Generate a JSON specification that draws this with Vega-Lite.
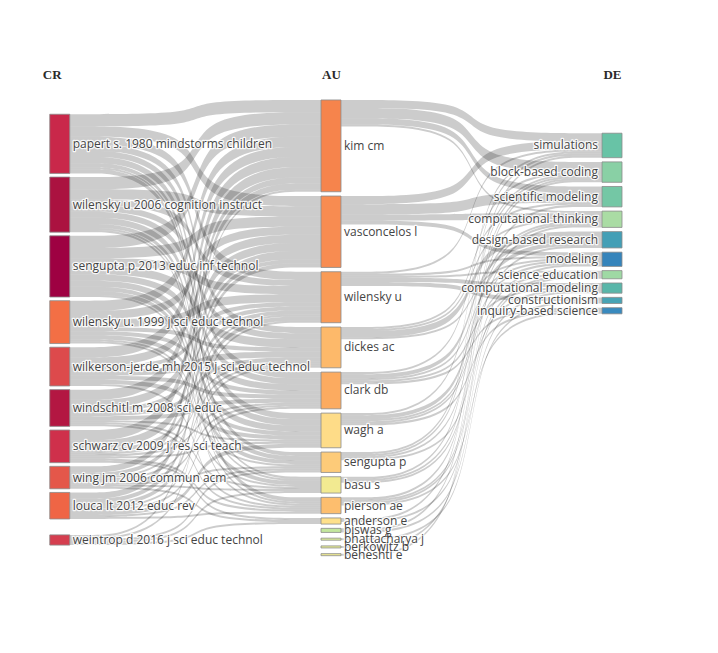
{
  "$schema": "https://vega.github.io/schema/vega-lite/v6.json",
  "width": 718,
  "height": 653,
  "autosize": {"type": "none"},
  "padding": 0,
  "background": "white",
  "config": {"view": {"stroke": null}},
  "datasets": {
    "nodes": [
      {"name": "papert s. 1980 mindstorms children", "col": "CR", "ord": 0, "value": 29},
      {"name": "wilensky u 2006 cognition instruct", "col": "CR", "ord": 1, "value": 27},
      {"name": "sengupta p 2013 educ inf technol", "col": "CR", "ord": 2, "value": 30},
      {"name": "wilensky u. 1999 j sci educ technol", "col": "CR", "ord": 3, "value": 21},
      {"name": "wilkerson-jerde mh 2015 j sci educ technol", "col": "CR", "ord": 4, "value": 19},
      {"name": "windschitl m 2008 sci educ", "col": "CR", "ord": 5, "value": 18},
      {"name": "schwarz cv 2009 j res sci teach", "col": "CR", "ord": 6, "value": 16},
      {"name": "wing jm 2006 commun acm", "col": "CR", "ord": 7, "value": 11},
      {"name": "louca lt 2012 educ rev", "col": "CR", "ord": 8, "value": 13},
      {"name": "weintrop d 2016 j sci educ technol", "col": "CR", "ord": 9, "value": 5},
      {"name": "kim cm", "col": "AU", "ord": 0, "value": 45},
      {"name": "vasconcelos l", "col": "AU", "ord": 1, "value": 35},
      {"name": "wilensky u", "col": "AU", "ord": 2, "value": 25},
      {"name": "dickes ac", "col": "AU", "ord": 3, "value": 20},
      {"name": "clark db", "col": "AU", "ord": 4, "value": 18},
      {"name": "wagh a", "col": "AU", "ord": 5, "value": 17},
      {"name": "sengupta p", "col": "AU", "ord": 6, "value": 10},
      {"name": "basu s", "col": "AU", "ord": 7, "value": 8},
      {"name": "pierson ae", "col": "AU", "ord": 8, "value": 8},
      {"name": "anderson e", "col": "AU", "ord": 9, "value": 3},
      {"name": "biswas g", "col": "AU", "ord": 10, "value": 2},
      {"name": "bhattacharya j", "col": "AU", "ord": 11, "value": 1},
      {"name": "berkowitz b", "col": "AU", "ord": 12, "value": 1},
      {"name": "beheshti e", "col": "AU", "ord": 13, "value": 1},
      {"name": "simulations", "col": "DE", "ord": 0, "value": 12},
      {"name": "block-based coding", "col": "DE", "ord": 1, "value": 10},
      {"name": "scientific modeling", "col": "DE", "ord": 2, "value": 10},
      {"name": "computational thinking", "col": "DE", "ord": 3, "value": 8},
      {"name": "design-based research", "col": "DE", "ord": 4, "value": 8},
      {"name": "modeling", "col": "DE", "ord": 5, "value": 7},
      {"name": "science education", "col": "DE", "ord": 6, "value": 4},
      {"name": "computational modeling", "col": "DE", "ord": 7, "value": 5},
      {"name": "constructionism", "col": "DE", "ord": 8, "value": 3},
      {"name": "inquiry-based science", "col": "DE", "ord": 9, "value": 3}
    ],
    "links": [
      {"source": "papert s. 1980 mindstorms children", "target": "kim cm", "value": 6},
      {"source": "papert s. 1980 mindstorms children", "target": "vasconcelos l", "value": 5},
      {"source": "papert s. 1980 mindstorms children", "target": "wilensky u", "value": 4},
      {"source": "papert s. 1980 mindstorms children", "target": "dickes ac", "value": 3},
      {"source": "papert s. 1980 mindstorms children", "target": "clark db", "value": 3},
      {"source": "papert s. 1980 mindstorms children", "target": "wagh a", "value": 3},
      {"source": "papert s. 1980 mindstorms children", "target": "sengupta p", "value": 2},
      {"source": "papert s. 1980 mindstorms children", "target": "basu s", "value": 1},
      {"source": "papert s. 1980 mindstorms children", "target": "pierson ae", "value": 2},
      {"source": "wilensky u 2006 cognition instruct", "target": "kim cm", "value": 6},
      {"source": "wilensky u 2006 cognition instruct", "target": "vasconcelos l", "value": 5},
      {"source": "wilensky u 2006 cognition instruct", "target": "wilensky u", "value": 3},
      {"source": "wilensky u 2006 cognition instruct", "target": "dickes ac", "value": 3},
      {"source": "wilensky u 2006 cognition instruct", "target": "clark db", "value": 3},
      {"source": "wilensky u 2006 cognition instruct", "target": "wagh a", "value": 3},
      {"source": "wilensky u 2006 cognition instruct", "target": "sengupta p", "value": 2},
      {"source": "wilensky u 2006 cognition instruct", "target": "basu s", "value": 1},
      {"source": "wilensky u 2006 cognition instruct", "target": "pierson ae", "value": 1},
      {"source": "sengupta p 2013 educ inf technol", "target": "kim cm", "value": 6},
      {"source": "sengupta p 2013 educ inf technol", "target": "vasconcelos l", "value": 5},
      {"source": "sengupta p 2013 educ inf technol", "target": "wilensky u", "value": 4},
      {"source": "sengupta p 2013 educ inf technol", "target": "dickes ac", "value": 4},
      {"source": "sengupta p 2013 educ inf technol", "target": "clark db", "value": 3},
      {"source": "sengupta p 2013 educ inf technol", "target": "wagh a", "value": 3},
      {"source": "sengupta p 2013 educ inf technol", "target": "sengupta p", "value": 2},
      {"source": "sengupta p 2013 educ inf technol", "target": "basu s", "value": 2},
      {"source": "sengupta p 2013 educ inf technol", "target": "pierson ae", "value": 1},
      {"source": "wilensky u. 1999 j sci educ technol", "target": "kim cm", "value": 5},
      {"source": "wilensky u. 1999 j sci educ technol", "target": "vasconcelos l", "value": 4},
      {"source": "wilensky u. 1999 j sci educ technol", "target": "wilensky u", "value": 4},
      {"source": "wilensky u. 1999 j sci educ technol", "target": "dickes ac", "value": 2},
      {"source": "wilensky u. 1999 j sci educ technol", "target": "clark db", "value": 2},
      {"source": "wilensky u. 1999 j sci educ technol", "target": "wagh a", "value": 2},
      {"source": "wilensky u. 1999 j sci educ technol", "target": "sengupta p", "value": 1},
      {"source": "wilensky u. 1999 j sci educ technol", "target": "basu s", "value": 1},
      {"source": "wilkerson-jerde mh 2015 j sci educ technol", "target": "kim cm", "value": 5},
      {"source": "wilkerson-jerde mh 2015 j sci educ technol", "target": "vasconcelos l", "value": 4},
      {"source": "wilkerson-jerde mh 2015 j sci educ technol", "target": "wilensky u", "value": 2},
      {"source": "wilkerson-jerde mh 2015 j sci educ technol", "target": "dickes ac", "value": 3},
      {"source": "wilkerson-jerde mh 2015 j sci educ technol", "target": "clark db", "value": 2},
      {"source": "wilkerson-jerde mh 2015 j sci educ technol", "target": "wagh a", "value": 2},
      {"source": "wilkerson-jerde mh 2015 j sci educ technol", "target": "pierson ae", "value": 1},
      {"source": "windschitl m 2008 sci educ", "target": "kim cm", "value": 5},
      {"source": "windschitl m 2008 sci educ", "target": "vasconcelos l", "value": 4},
      {"source": "windschitl m 2008 sci educ", "target": "wilensky u", "value": 2},
      {"source": "windschitl m 2008 sci educ", "target": "dickes ac", "value": 2},
      {"source": "windschitl m 2008 sci educ", "target": "clark db", "value": 2},
      {"source": "windschitl m 2008 sci educ", "target": "wagh a", "value": 1},
      {"source": "windschitl m 2008 sci educ", "target": "basu s", "value": 1},
      {"source": "windschitl m 2008 sci educ", "target": "pierson ae", "value": 1},
      {"source": "schwarz cv 2009 j res sci teach", "target": "kim cm", "value": 5},
      {"source": "schwarz cv 2009 j res sci teach", "target": "vasconcelos l", "value": 4},
      {"source": "schwarz cv 2009 j res sci teach", "target": "wilensky u", "value": 2},
      {"source": "schwarz cv 2009 j res sci teach", "target": "dickes ac", "value": 1},
      {"source": "schwarz cv 2009 j res sci teach", "target": "clark db", "value": 1},
      {"source": "schwarz cv 2009 j res sci teach", "target": "wagh a", "value": 1},
      {"source": "schwarz cv 2009 j res sci teach", "target": "pierson ae", "value": 1},
      {"source": "schwarz cv 2009 j res sci teach", "target": "anderson e", "value": 1},
      {"source": "wing jm 2006 commun acm", "target": "kim cm", "value": 3},
      {"source": "wing jm 2006 commun acm", "target": "vasconcelos l", "value": 2},
      {"source": "wing jm 2006 commun acm", "target": "wilensky u", "value": 1},
      {"source": "wing jm 2006 commun acm", "target": "dickes ac", "value": 1},
      {"source": "wing jm 2006 commun acm", "target": "clark db", "value": 1},
      {"source": "wing jm 2006 commun acm", "target": "sengupta p", "value": 1},
      {"source": "wing jm 2006 commun acm", "target": "basu s", "value": 1},
      {"source": "wing jm 2006 commun acm", "target": "anderson e", "value": 1},
      {"source": "louca lt 2012 educ rev", "target": "kim cm", "value": 3},
      {"source": "louca lt 2012 educ rev", "target": "vasconcelos l", "value": 2},
      {"source": "louca lt 2012 educ rev", "target": "wilensky u", "value": 2},
      {"source": "louca lt 2012 educ rev", "target": "dickes ac", "value": 1},
      {"source": "louca lt 2012 educ rev", "target": "clark db", "value": 1},
      {"source": "louca lt 2012 educ rev", "target": "wagh a", "value": 2},
      {"source": "louca lt 2012 educ rev", "target": "sengupta p", "value": 1},
      {"source": "louca lt 2012 educ rev", "target": "pierson ae", "value": 1},
      {"source": "weintrop d 2016 j sci educ technol", "target": "kim cm", "value": 1},
      {"source": "weintrop d 2016 j sci educ technol", "target": "wilensky u", "value": 1},
      {"source": "weintrop d 2016 j sci educ technol", "target": "sengupta p", "value": 1},
      {"source": "weintrop d 2016 j sci educ technol", "target": "basu s", "value": 1},
      {"source": "weintrop d 2016 j sci educ technol", "target": "anderson e", "value": 1},
      {"source": "kim cm", "target": "simulations", "value": 4},
      {"source": "kim cm", "target": "block-based coding", "value": 5},
      {"source": "kim cm", "target": "scientific modeling", "value": 3},
      {"source": "kim cm", "target": "computational thinking", "value": 1},
      {"source": "vasconcelos l", "target": "simulations", "value": 4},
      {"source": "vasconcelos l", "target": "scientific modeling", "value": 5},
      {"source": "vasconcelos l", "target": "computational thinking", "value": 3},
      {"source": "vasconcelos l", "target": "modeling", "value": 2},
      {"source": "wilensky u", "target": "simulations", "value": 1},
      {"source": "wilensky u", "target": "modeling", "value": 1},
      {"source": "wilensky u", "target": "science education", "value": 1},
      {"source": "wilensky u", "target": "computational modeling", "value": 2},
      {"source": "wilensky u", "target": "constructionism", "value": 2},
      {"source": "dickes ac", "target": "scientific modeling", "value": 1},
      {"source": "dickes ac", "target": "computational thinking", "value": 1},
      {"source": "dickes ac", "target": "design-based research", "value": 3},
      {"source": "dickes ac", "target": "modeling", "value": 1},
      {"source": "clark db", "target": "block-based coding", "value": 1},
      {"source": "clark db", "target": "design-based research", "value": 2},
      {"source": "clark db", "target": "modeling", "value": 1},
      {"source": "clark db", "target": "computational modeling", "value": 1},
      {"source": "clark db", "target": "inquiry-based science", "value": 1},
      {"source": "wagh a", "target": "simulations", "value": 1},
      {"source": "wagh a", "target": "design-based research", "value": 2},
      {"source": "wagh a", "target": "modeling", "value": 1},
      {"source": "wagh a", "target": "science education", "value": 1},
      {"source": "wagh a", "target": "inquiry-based science", "value": 1},
      {"source": "sengupta p", "target": "simulations", "value": 1},
      {"source": "sengupta p", "target": "block-based coding", "value": 1},
      {"source": "sengupta p", "target": "computational thinking", "value": 1},
      {"source": "sengupta p", "target": "computational modeling", "value": 1},
      {"source": "basu s", "target": "block-based coding", "value": 1},
      {"source": "basu s", "target": "computational thinking", "value": 1},
      {"source": "basu s", "target": "design-based research", "value": 1},
      {"source": "pierson ae", "target": "scientific modeling", "value": 1},
      {"source": "pierson ae", "target": "modeling", "value": 1},
      {"source": "pierson ae", "target": "science education", "value": 1},
      {"source": "pierson ae", "target": "inquiry-based science", "value": 1},
      {"source": "anderson e", "target": "simulations", "value": 1},
      {"source": "anderson e", "target": "science education", "value": 1},
      {"source": "biswas g", "target": "block-based coding", "value": 1},
      {"source": "biswas g", "target": "computational modeling", "value": 1},
      {"source": "bhattacharya j", "target": "constructionism", "value": 1},
      {"source": "berkowitz b", "target": "computational thinking", "value": 1},
      {"source": "beheshti e", "target": "block-based coding", "value": 1}
    ]
  },
  "layer": [
    {
      "data": {"name": "links"},
      "transform": [
        {"lookup": "source", "from": {"data": {"name": "nodes"}, "key": "name", "fields": ["col", "ord"]}, "as": ["scol", "sord"]},
        {"lookup": "target", "from": {"data": {"name": "nodes"}, "key": "name", "fields": ["ord"]}, "as": ["tord"]},
        {"calculate": "datum.scol == 'CR' ? 0 : 1", "as": "stage"},
        {"fold": ["source", "target"], "as": ["end", "node"]},
        {"lookup": "node", "from": {"data": {"name": "nodes"}, "key": "name", "fields": ["col", "ord", "value"]}, "as": ["ncol", "nord", "nval"]},
        {"calculate": "datum.end == 'source' ? datum.tord : datum.sord", "as": "oord"},
        {"joinaggregate": [{"op": "count", "as": "ncnt"}], "groupby": ["node"]},
        {"calculate": "datum.nval / datum.ncnt", "as": "share"},
        {"window": [{"op": "sum", "field": "share", "as": "ncum"}], "groupby": ["ncol"], "sort": [{"field": "nord", "order": "ascending"}], "frame": [null, 0]},
        {"window": [{"op": "sum", "field": "value", "as": "lcum"}], "groupby": ["node", "end"], "sort": [{"field": "oord", "order": "ascending"}], "frame": [null, 0]},
        {"calculate": "(datum.ncol == 'CR' ? 56 : datum.ncol == 'AU' ? 49 : 65.3) + datum.nord * (datum.ncol == 'CR' ? 1.8 : datum.ncol == 'AU' ? 2.1 : 2.06) + (datum.ncol == 'CR' && datum.nord == 9 ? 6 : 0) + (datum.ncol == 'AU' && datum.nord > 10 ? (datum.nord - 10) * 0.7 : 0) + datum.ncum - datum.nval + datum.lcum - datum.value", "as": "ytop"},
        {"calculate": "datum.end == 'source' ? datum.ytop : -1", "as": "ysa"},
        {"calculate": "datum.end == 'target' ? datum.ytop : -1", "as": "yta"},
        {"joinaggregate": [{"op": "max", "field": "ysa", "as": "p0"}, {"op": "max", "field": "ysa", "as": "p1"}, {"op": "max", "field": "yta", "as": "p2"}, {"op": "max", "field": "yta", "as": "p3"}], "groupby": ["source", "target"]},
        {"filter": "datum.end == 'source'"},
        {"fold": ["p0", "p1", "p2", "p3"], "as": ["k", "yy"]},
        {"calculate": "datum.stage + (datum.k == 'p0' ? 0.036 : datum.k == 'p3' ? 0.964 : 0.5)", "as": "lx"},
        {"calculate": "datum.yy + datum.value", "as": "yb"},
        {"calculate": "datum.source + '|' + datum.target", "as": "lid"}
      ],
      "mark": {"type": "area", "interpolate": "basis", "color": "#000000", "fillOpacity": 0.2},
      "encoding": {
        "x": {"field": "lx", "type": "quantitative", "scale": {"domain": [0, 1, 2], "range": [59.75, 331, 612], "nice": false, "zero": false, "padding": 0},
              "axis": {"orient": "top", "values": [0, 1, 2], "labelExpr": "['CR','AU','DE'][datum.value]", "domain": false, "ticks": false, "grid": false, "title": null, "offset": -74, "labelPadding": 0, "labelBaseline": "middle", "labelAlign": "center", "labelFlush": false, "labelOverlap": false, "labelAngle": 0, "labelOffset": {"condition": {"test": "datum.value == 0", "value": -8}, "value": 0}, "labelFont": "Liberation Serif", "labelFontWeight": "bold", "labelFontSize": 13, "labelColor": "#2a2a2a"}},
        "y": {"field": "yy", "type": "quantitative", "stack": null, "scale": {"domain": [0, 320.1], "reverse": true, "nice": false, "zero": false}, "axis": null},
        "y2": {"field": "yb"},
        "detail": {"field": "lid", "type": "nominal"}
      }
    },
    {
      "data": {"name": "nodes"},
      "transform": [
        {"window": [{"op": "sum", "field": "value", "as": "cum"}], "groupby": ["col"], "sort": [{"field": "ord", "order": "ascending"}], "frame": [null, 0]},
        {"calculate": "(datum.col == 'CR' ? 56 : datum.col == 'AU' ? 49 : 65.3) + datum.ord * (datum.col == 'CR' ? 1.8 : datum.col == 'AU' ? 2.1 : 2.06) + (datum.col == 'CR' && datum.ord == 9 ? 6 : 0) + (datum.col == 'AU' && datum.ord > 10 ? (datum.ord - 10) * 0.7 : 0) + datum.cum - datum.value", "as": "y0"},
        {"calculate": "datum.y0 + datum.value", "as": "y1"},
        {"calculate": "(datum.y0 + datum.y1) / 2", "as": "ym"},
        {"calculate": "datum.col == 'CR' ? 0 : datum.col == 'AU' ? 1 : 2", "as": "stage"}
      ],
      "layer": [
        {
          "mark": {"type": "bar", "width": 20, "stroke": "#8a8a8a", "strokeWidth": 0.8},
          "encoding": {
            "x": {"field": "stage", "type": "quantitative"},
            "y": {"field": "y0", "type": "quantitative", "axis": null},
            "y2": {"field": "y1"},
            "color": {"field": "name", "type": "nominal", "legend": null,
              "scale": {
                "domain": ["papert s. 1980 mindstorms children", "wilensky u 2006 cognition instruct", "sengupta p 2013 educ inf technol", "wilensky u. 1999 j sci educ technol", "wilkerson-jerde mh 2015 j sci educ technol", "windschitl m 2008 sci educ", "schwarz cv 2009 j res sci teach", "wing jm 2006 commun acm", "louca lt 2012 educ rev", "weintrop d 2016 j sci educ technol", "kim cm", "vasconcelos l", "wilensky u", "dickes ac", "clark db", "wagh a", "sengupta p", "basu s", "pierson ae", "anderson e", "biswas g", "bhattacharya j", "berkowitz b", "beheshti e", "simulations", "block-based coding", "scientific modeling", "computational thinking", "design-based research", "modeling", "science education", "computational modeling", "constructionism", "inquiry-based science"],
                "range": ["#c9284a", "#ab1240", "#9e0142", "#f36f45", "#dd4a4c", "#b31742", "#cf304b", "#e4574a", "#ef6545", "#d53e4f", "#f6844c", "#f88c51", "#f99b57", "#fdb96a", "#fcab60", "#fedc88", "#fdcb79", "#f2ea91", "#fdbe6e", "#fee08b", "#c3e79e", "#e0f29a", "#e8ee94", "#eeea92", "#68c3a6", "#89d0a5", "#74c7a5", "#aadca4", "#439fb6", "#3584bb", "#9fd9a4", "#59b6a9", "#48a3b4", "#398abe"]
              }
            }
          }
        },
        {
          "transform": [{"filter": "datum.col != 'DE'"}],
          "mark": {"type": "text", "align": "left", "baseline": "middle", "dx": 13, "font": "Open Sans", "fontSize": 12, "color": "#ffffff", "stroke": "#ffffff", "strokeWidth": 2.5, "strokeOpacity": 0.85, "strokeJoin": "round"},
          "encoding": {
            "x": {"field": "stage", "type": "quantitative"},
            "y": {"field": "ym", "type": "quantitative"},
            "text": {"field": "name"}
          }
        },
        {
          "transform": [{"filter": "datum.col != 'DE'"}],
          "mark": {"type": "text", "align": "left", "baseline": "middle", "dx": 13, "font": "Open Sans", "fontSize": 12, "color": "#444444"},
          "encoding": {
            "x": {"field": "stage", "type": "quantitative"},
            "y": {"field": "ym", "type": "quantitative"},
            "text": {"field": "name"}
          }
        },
        {
          "transform": [{"filter": "datum.col == 'DE'"}],
          "mark": {"type": "text", "align": "right", "baseline": "middle", "dx": -14, "font": "Open Sans", "fontSize": 12, "color": "#ffffff", "stroke": "#ffffff", "strokeWidth": 2.5, "strokeOpacity": 0.85, "strokeJoin": "round"},
          "encoding": {
            "x": {"field": "stage", "type": "quantitative"},
            "y": {"field": "ym", "type": "quantitative"},
            "text": {"field": "name"}
          }
        },
        {
          "transform": [{"filter": "datum.col == 'DE'"}],
          "mark": {"type": "text", "align": "right", "baseline": "middle", "dx": -14, "font": "Open Sans", "fontSize": 12, "color": "#444444"},
          "encoding": {
            "x": {"field": "stage", "type": "quantitative"},
            "y": {"field": "ym", "type": "quantitative"},
            "text": {"field": "name"}
          }
        }
      ]
    }
  ]
}
